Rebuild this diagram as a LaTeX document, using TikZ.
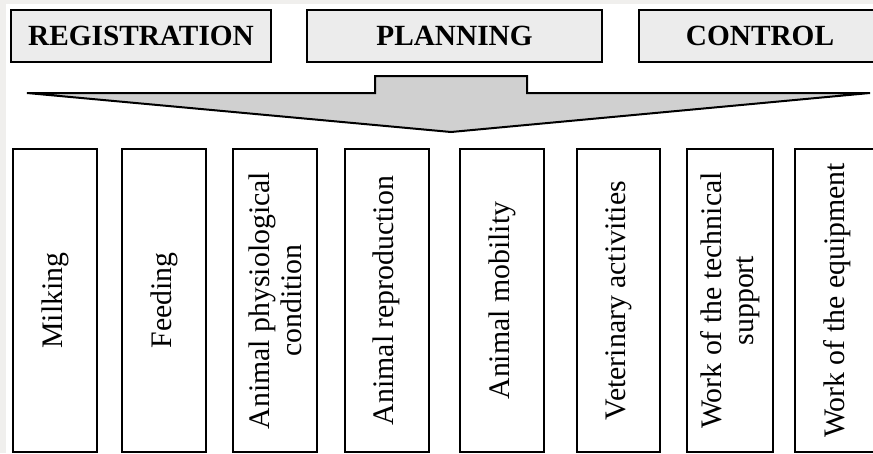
\documentclass[tikz,border=0pt]{standalone}
\usepackage{fontspec}
\setmainfont{Liberation Serif}
\usepackage{tikz}
\usetikzlibrary{positioning}
\definecolor{headgray}{HTML}{ECECEC}
\definecolor{arrowgray}{HTML}{D0D0D0}
\definecolor{pagegray}{HTML}{F0EFED}
\tikzset{
head/.style={draw, line width=2pt, fill=headgray, minimum height=52pt,
  inner sep=0pt, font=\fontsize{29.3}{31}\selectfont\bfseries},
task/.style={draw, line width=2pt, fill=white, rotate=90, minimum width=303pt,
  minimum height=84pt, inner sep=0pt, align=center,
  font=\fontsize{29.8}{32}\selectfont},
funnel/.style={draw, line width=2pt, fill=arrowgray, line join=miter}
}

\begin{document}
\begin{tikzpicture}[x=1pt,y=-1pt]
\useasboundingbox (0,0) rectangle (873,453);
\fill[pagegray] (0,0) rectangle (873,453);
\fill[white] (6,4) rectangle (873,453);
\begin{scope}
\clip (0,0) rectangle (873,453);
% top row
\node[head, minimum width=260pt] (reg) at (141,36) {REGISTRATION};
\node[head, minimum width=295pt] (plan) at (454.5,36) {PLANNING};
\node[head, minimum width=242pt] (ctrl) at (760,36) {CONTROL};
% the big arrow
\draw[funnel] (27,93) -- (375,93) -- (375,76) -- (527,76) -- (527,93)
  -- (870,93) -- (451,132) -- cycle;
% bottom row
\node[task] (milk) at (55,300.5) {Milking};
\node[task] (feed) at (164,300.5) {Feeding};
\node[task] (phys) at (275,300.5) {Animal physiological\\condition};
\node[task] (repr) at (386.5,300.5) {Animal reproduction};
\node[task] (mobi) at (502,300.5) {Animal mobility};
\node[task, minimum height=83pt] (vete) at (618.5,300.5) {Veterinary activities};
\node[task, minimum height=86pt] (tech) at (730,300.5) {Work of the technical\\support};
\node[task] (equi) at (837,300.5) {Work of the equipment};
\end{scope}
\end{tikzpicture}
\end{document}
